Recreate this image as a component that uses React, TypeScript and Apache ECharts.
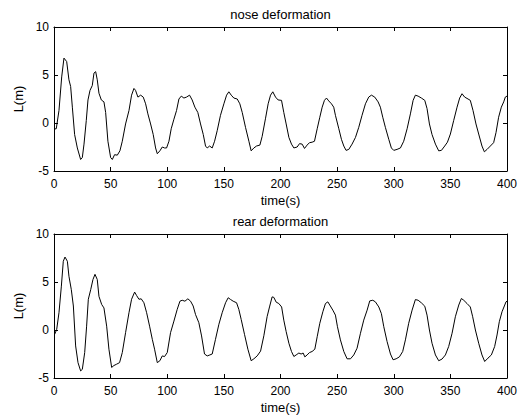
import React, { useEffect, useRef } from "react";
import * as echarts from "echarts";

const noseTime = [0, 2, 4.4, 6.8, 8.8, 11.2, 13.2, 14.7, 16.2, 18.2, 20.6, 23.5, 25, 26.5, 28.5, 30, 31.8, 33.8, 35.3, 36.8, 38.2, 39.7, 41.8, 44.1, 45.6, 47.6, 50, 51.5, 53.5, 55.9, 58.2, 60.3, 63.2, 66.2, 68.5, 70.6, 72, 74.1, 76.5, 78.8, 80.9, 82.9, 85.3, 87.6, 89.7, 91.2, 93.5, 95.6, 97.6, 99.4, 101.5, 103.5, 105.9, 108.2, 110.3, 112.4, 114.7, 117, 119.7, 122, 124.4, 127, 129.4, 131.8, 133.8, 135.3, 137.4, 139.7, 141.8, 144.1, 147, 150, 152.4, 154.4, 156.5, 158.8, 161.8, 164.1, 166.2, 169.1, 172.1, 174.1, 176.5, 178.8, 181.8, 183.8, 186.8, 189.1, 191.2, 193.2, 195.6, 197.9, 200.9, 202.9, 205, 207.4, 209.7, 211.8, 214.7, 216.8, 219.1, 221.2, 223.5, 225.6, 227.9, 230, 232.4, 234.7, 236.8, 238.8, 240.6, 242.6, 245, 247, 248.5, 251.5, 253.8, 255.9, 257.9, 260.3, 263.2, 266.2, 269.1, 272, 275, 277.9, 280.3, 283.2, 286.2, 288.2, 290.3, 292.6, 295.6, 297.9, 300, 302.9, 305.9, 308.8, 311.8, 314.7, 317.1, 319.1, 321.5, 324.4, 327.4, 329.4, 331.5, 333.8, 336.8, 339.7, 342.1, 345, 347.4, 350, 352.9, 355.9, 358.2, 360.3, 362.6, 365.6, 367.6, 370, 372.6, 375, 377.9, 380, 382.4, 385.3, 388.2, 390.3, 392.6, 395, 397.1, 398.5, 400];
const noseL = [-0.63, -0.6, 1.3, 4.8, 6.76, 6.4, 4.5, 3.8, 1.65, -1.2, -2.6, -3.8, -3.6, -2.2, 0.25, 2.4, 3.4, 3.9, 5.2, 5.35, 4.5, 3.1, 2.4, 2.2, 1.1, -1.9, -3.6, -3.8, -3.3, -3.35, -2.9, -1.9, -0.1, 1.3, 2.9, 3.6, 3.4, 2.7, 2.9, 2.7, 2.0, 0.95, -0.1, -1.2, -2.6, -3.2, -2.9, -2.5, -2.6, -2.6, -1.9, -0.6, 0.4, 1.3, 2.5, 2.8, 2.6, 2.7, 2.9, 2.4, 1.65, 1.1, -0.1, -1.2, -2.4, -2.6, -2.4, -2.6, -1.9, -0.8, 0.8, 2.0, 2.9, 3.25, 2.9, 2.6, 2.5, 2.0, 1.1, -0.45, -1.9, -2.9, -2.6, -2.4, -2.3, -1.4, 0.5, 2.0, 2.9, 3.25, 2.7, 2.4, 2.36, 1.1, -0.1, -1.5, -2.2, -2.6, -2.5, -2.15, -2.2, -2.65, -2.3, -2.05, -2.0, -1.9, -0.6, 0.6, 1.65, 2.36, 2.6, 2.3, 2.0, 1.65, 0.8, -0.6, -1.7, -2.4, -2.85, -2.75, -2.2, -1.5, -0.45, 0.8, 2.0, 2.7, 2.9, 2.7, 2.2, 1.65, 0.6, -0.45, -1.7, -2.6, -2.85, -2.75, -2.6, -1.9, -0.6, 0.95, 2.36, 2.9, 2.8, 2.6, 2.36, 1.5, -0.1, -1.2, -2.2, -2.9, -2.85, -2.4, -2.0, -1.15, 0.25, 1.65, 2.6, 3.05, 2.7, 2.5, 2.36, 1.3, -0.1, -1.15, -2.4, -3.0, -2.75, -2.4, -2.05, -1.0, 0.6, 1.65, 2.2, 2.7, 2.8];

const rearTime = [0, 0.6, 2.4, 4.4, 6.5, 8.2, 9.7, 11.8, 13.2, 15.3, 17.1, 19.1, 21.2, 23.5, 25, 27.1, 28.8, 30.3, 32.4, 34.4, 36.2, 38.2, 39.7, 42.1, 44.1, 46.5, 48.5, 50.9, 52.9, 55.3, 57.9, 60.3, 63.2, 66.2, 68.5, 71.2, 72.9, 75, 77, 79.4, 81.8, 84.4, 86.8, 88.8, 91.2, 93.5, 95.6, 97.6, 100, 102.9, 105.9, 108.8, 111.2, 113.2, 115.6, 118.2, 120.6, 122.9, 125, 127.9, 130.3, 132.9, 135.3, 137.6, 139.7, 142.6, 145.6, 148.5, 151.5, 153.8, 155.9, 158.2, 161.2, 163.2, 165.3, 168.2, 171.2, 174.1, 176.5, 179.4, 182.4, 185.3, 188.2, 190.3, 192.6, 194.1, 196.2, 198.5, 201, 202.9, 205, 207.4, 209.7, 211.8, 213.8, 216.2, 218.2, 220, 221.5, 223.5, 225.6, 227.9, 230.3, 232.4, 234.7, 237.4, 239.7, 241.8, 243.5, 246.2, 248.5, 250.3, 252.9, 255.9, 258.8, 261.8, 264.7, 267.6, 270.6, 273.5, 276.5, 278.8, 281.5, 283.8, 286.8, 289.1, 291.2, 294.1, 297.1, 299.4, 302.1, 305, 307.9, 310.3, 313.2, 316.2, 319.1, 321.5, 324.4, 327.4, 329.4, 331.5, 333.8, 336.8, 339.7, 342.6, 345.6, 348.5, 351.5, 354.4, 357.4, 359.7, 361.8, 364.7, 367.6, 369.7, 372.1, 375, 377.9, 380.3, 383.2, 386.2, 389.1, 391.2, 393.2, 395.6, 398, 399.1, 400];
const rearL = [-0.5, -0.45, 0.07, 1.8, 4.57, 7.16, 7.6, 7.16, 5.6, 4.2, 2.5, -1.66, -3.4, -4.26, -4.1, -2.35, 0.4, 3.2, 4.2, 5.26, 5.8, 5.26, 3.5, 2.66, 2.3, 0.4, -2.0, -3.9, -3.7, -3.56, -3.4, -2.35, -0.28, 1.8, 3.2, 3.95, 3.6, 3.2, 3.25, 2.84, 1.8, 0.4, -0.97, -2.0, -3.4, -3.2, -2.7, -2.77, -2.35, -0.28, 0.93, 2.15, 3.0, 3.1, 3.0, 3.25, 3.0, 2.5, 1.6, 0.76, -0.62, -2.5, -2.7, -2.6, -2.5, -0.97, 0.6, 1.8, 2.84, 3.36, 3.18, 3.0, 2.84, 2.15, 1.1, -0.45, -2.0, -3.2, -3.0, -2.7, -2.2, -0.6, 1.4, 2.4, 3.45, 3.4, 2.9, 2.76, 2.4, 1.03, -0.17, -1.38, -2.24, -2.76, -2.6, -2.4, -2.5, -2.4, -2.8, -2.6, -2.35, -2.24, -2.0, -0.7, 0.7, 1.9, 2.76, 2.93, 2.6, 2.07, 1.55, 0.34, -1.03, -2.24, -3.0, -3.0, -2.6, -1.9, -0.34, 1.03, 2.07, 3.03, 3.1, 2.93, 2.4, 1.7, 0.34, -1.2, -2.5, -3.1, -3.0, -2.8, -2.24, -1.03, 0.7, 2.07, 3.17, 3.1, 2.83, 2.48, 1.55, 0, -1.38, -2.6, -3.2, -3.03, -2.6, -1.72, -0.34, 1.38, 2.6, 3.28, 3.1, 2.76, 2.4, 1.38, 0, -1.38, -2.6, -3.28, -2.93, -2.6, -1.72, -0.52, 0.86, 1.9, 2.6, 2.93, 3.0];

const titles = ["nose deformation", "rear deformation"];
const xName = "time(s)";
const yName = "L(m)";
const xMin = 0, xMax = 400, xStep = 50;
const yMin = -5, yMax = 10, yStep = 5;

const FONT = "'Liberation Sans', Arial, Helvetica, sans-serif";

export default function App() {
  const ref = useRef<HTMLDivElement>(null);
  useEffect(() => {
    if (!ref.current) return;
    const chart = echarts.init(ref.current, undefined, { renderer: "svg" });
    const grids = [
      { left: 54, top: 27, width: 453, height: 144 },
      { left: 54, top: 234, width: 453, height: 144 },
    ];
    const lineStyle = { color: "#000", width: 1 };
    const xAxes: any[] = [];
    const yAxes: any[] = [];
    grids.forEach((_, i) => {
      xAxes.push({
        gridIndex: i, type: "value", position: "bottom", min: xMin, max: xMax, interval: xStep,
        axisLine: { show: true, onZero: false, lineStyle },
        axisTick: { show: true, inside: true, length: 4, lineStyle },
        splitLine: { show: false },
        axisLabel: { color: "#000", fontSize: 12, fontFamily: FONT, margin: 7 },
        name: xName, nameLocation: "middle", nameGap: 23,
        nameTextStyle: { color: "#000", fontSize: 13, fontFamily: FONT },
      });
      xAxes.push({
        gridIndex: i, type: "value", position: "top", min: xMin, max: xMax, interval: xStep,
        axisLine: { show: true, onZero: false, lineStyle },
        axisTick: { show: true, inside: true, length: 4, lineStyle },
        splitLine: { show: false },
        axisLabel: { show: false },
      });
      yAxes.push({
        gridIndex: i, type: "value", position: "left", min: yMin, max: yMax, interval: yStep,
        axisLine: { show: true, onZero: false, lineStyle },
        axisTick: { show: true, inside: true, length: 4, lineStyle },
        splitLine: { show: false },
        axisLabel: { color: "#000", fontSize: 12, fontFamily: FONT, margin: 5 },
        name: yName, nameLocation: "middle", nameGap: 26, nameRotate: 90,
        nameTextStyle: { color: "#000", fontSize: 13, fontFamily: FONT },
      });
      yAxes.push({
        gridIndex: i, type: "value", position: "right", min: yMin, max: yMax, interval: yStep,
        axisLine: { show: true, onZero: false, lineStyle },
        axisTick: { show: true, inside: true, length: 4, lineStyle },
        splitLine: { show: false },
        axisLabel: { show: false },
      });
    });
    const series = [
      { t: noseTime, v: noseL },
      { t: rearTime, v: rearL },
    ].map((s, i) => ({
      type: "line",
      xAxisIndex: i * 2,
      yAxisIndex: i * 2,
      data: s.t.map((t, k) => [t, s.v[k]]),
      showSymbol: false,
      symbol: "none",
      lineStyle: { color: "#000", width: 1 },
      smooth: false,
    }));
    chart.setOption({
      animation: false,
      backgroundColor: "#fff",
      grid: grids,
      xAxis: xAxes,
      yAxis: yAxes,
      series,
      graphic: titles.map((txt, i) => ({
        type: "text",
        x: 280.5,
        y: i === 0 ? 14 : 221,
        style: {
          text: txt,
          fill: "#000",
          font: `13px ${FONT}`,
          textAlign: "center",
          textVerticalAlign: "middle",
          verticalAlign: "middle",
        },
      })),
    });
    return () => chart.dispose();
  }, []);
  return (
    <div
      ref={ref}
      style={{ position: "absolute", left: 0, top: 0, width: 524, height: 419, background: "#fff" }}
    />
  );
}
